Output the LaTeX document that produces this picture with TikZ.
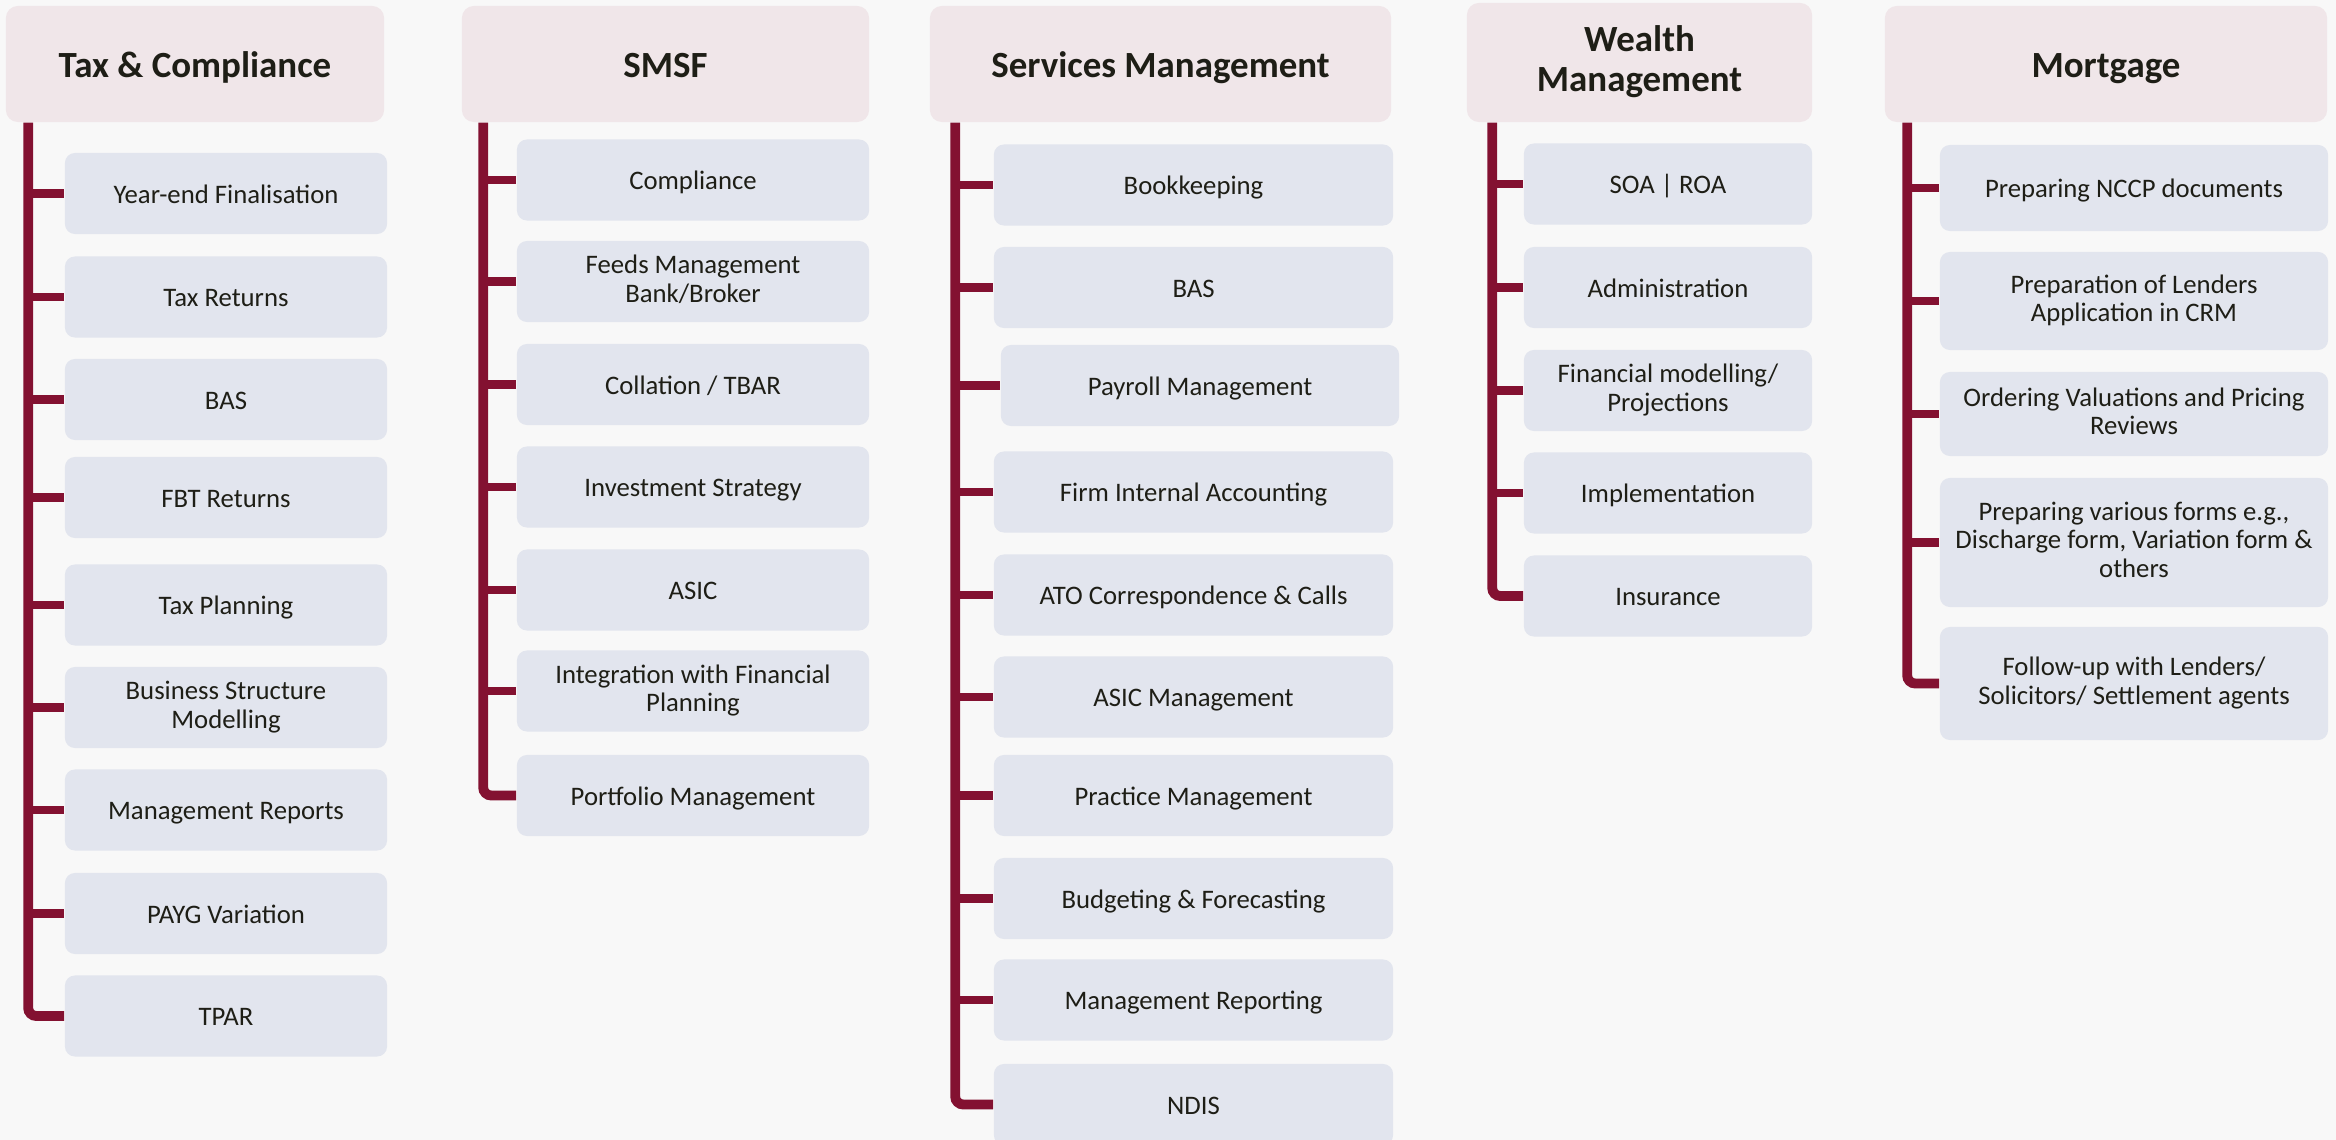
\documentclass[tikz,border=0pt]{standalone}
\usepackage{fontspec}
\setmainfont{Carlito}
\definecolor{bgcol}{HTML}{F8F8F8}
\definecolor{headfill}{HTML}{F0E6E9}
\definecolor{itemfill}{HTML}{E2E5EE}
\definecolor{linecol}{HTML}{831131}
\definecolor{txtcol}{HTML}{1E1E16}
\begin{document}
\begin{tikzpicture}[x=0.01cm,y=-0.01cm,
  head/.style={fill=headfill,rounded corners=0.12cm,minimum height=1.16cm,inner sep=0pt,
    align=center,text=txtcol,font=\fontsize{10.5}{11.5}\selectfont\bfseries,
    execute at begin node={\rule[-0.075cm]{0pt}{0.41cm}}},
  item/.style={fill=itemfill,rounded corners=0.1cm,minimum height=0.81cm,inner sep=0pt,
    align=center,text=txtcol,font=\fontsize{7.6}{8.1}\selectfont,
    execute at begin node={\rule[-0.055cm]{0pt}{0.30cm}}},
  trunk/.style={draw=linecol,line width=2.8pt,rounded corners=0.08cm},
  branch/.style={draw=linecol,line width=2.3pt}]
%fond
\fill[bgcol] (0,0) rectangle (2336,1140);
\useasboundingbox (0,0) rectangle (2336,1140);
%en-tetes
\node[head,minimum width=3.78cm] (h1) at (195,64) {Tax \& Compliance};
\node[head,minimum width=4.07cm] (h2) at (665.5,64) {SMSF};
\node[head,minimum width=4.61cm] (h3) at (1160.5,64) {Services Management};
\node[head,minimum width=3.45cm,minimum height=1.19cm] (h4) at (1639.5,62.5) {Wealth\\Management};
\node[head,minimum width=4.42cm] (h5) at (2106,64) {Mortgage};
%colonne 1
\node[item,minimum width=3.22cm] (c1-1) at (226,193.5) {Year-end Finalisation};
\node[item,minimum width=3.22cm] (c1-2) at (226,297) {Tax Returns};
\node[item,minimum width=3.22cm] (c1-3) at (226,399.5) {BAS};
\node[item,minimum width=3.22cm] (c1-4) at (226,497.5) {FBT Returns};
\node[item,minimum width=3.22cm] (c1-5) at (226,605) {Tax Planning};
\node[item,minimum width=3.22cm] (c1-6) at (226,707.5) {Business Structure\\Modelling};
\node[item,minimum width=3.22cm] (c1-7) at (226,810) {Management Reports};
\node[item,minimum width=3.22cm] (c1-8) at (226,913.5) {PAYG Variation};
\node[item,minimum width=3.22cm] (c1-9) at (226,1016) {TPAR};
\coordinate (t1) at ([xshift=0.23cm]h1.south west);
\draw[trunk] (t1) |- (c1-9.west);
\foreach \i in {1,...,8} \draw[branch] (t1 |- c1-\i.west) -- (c1-\i.west);
%colonne 2
\node[item,minimum width=3.52cm] (c2-1) at (693,180) {Compliance};
\node[item,minimum width=3.52cm] (c2-2) at (693,281.5) {Feeds Management\\Bank/Broker};
\node[item,minimum width=3.52cm] (c2-3) at (693,384.5) {Collation / TBAR};
\node[item,minimum width=3.52cm] (c2-4) at (693,487) {Investment Strategy};
\node[item,minimum width=3.52cm] (c2-5) at (693,590) {ASIC};
\node[item,minimum width=3.52cm] (c2-6) at (693,691) {Integration with Financial\\Planning};
\node[item,minimum width=3.52cm] (c2-7) at (693,795.5) {Portfolio Management};
\coordinate (t2) at ([xshift=0.22cm]h2.south west);
\draw[trunk] (t2) |- (c2-7.west);
\foreach \i in {1,...,6} \draw[branch] (t2 |- c2-\i.west) -- (c2-\i.west);
%colonne 3
\node[item,minimum width=3.99cm] (c3-1) at (1193.5,185) {Bookkeeping};
\node[item,minimum width=3.99cm] (c3-2) at (1193.5,287.5) {BAS};
\node[item,minimum width=3.98cm] (c3-3) at (1200,385.5) {Payroll Management};
\node[item,minimum width=3.99cm] (c3-4) at (1193.5,492) {Firm Internal Accounting};
\node[item,minimum width=3.99cm] (c3-5) at (1193.5,595) {ATO Correspondence \& Calls};
\node[item,minimum width=3.99cm] (c3-6) at (1193.5,697) {ASIC Management};
\node[item,minimum width=3.99cm] (c3-7) at (1193.5,795.5) {Practice Management};
\node[item,minimum width=3.99cm] (c3-8) at (1193.5,898.5) {Budgeting \& Forecasting};
\node[item,minimum width=3.99cm] (c3-9) at (1193.5,1000) {Management Reporting};
\node[item,minimum width=3.99cm] (c3-10) at (1193.5,1104.5) {NDIS};
\coordinate (t3) at ([xshift=0.26cm]h3.south west);
\draw[trunk] (t3) |- (c3-10.west);
\foreach \i in {1,...,9} \draw[branch] (t3 |- c3-\i.west) -- (c3-\i.west);
%colonne 4
\node[item,minimum width=2.88cm] (c4-1) at (1668,184) {SOA | ROA};
\node[item,minimum width=2.88cm] (c4-2) at (1668,287.5) {Administration};
\node[item,minimum width=2.88cm] (c4-3) at (1668,390.5) {Financial modelling/\\Projections};
\node[item,minimum width=2.88cm] (c4-4) at (1668,493) {Implementation};
\node[item,minimum width=2.88cm] (c4-5) at (1668,596) {Insurance};
\coordinate (t4) at ([xshift=0.26cm]h4.south west);
\draw[trunk] (t4) |- (c4-5.west);
\foreach \i in {1,...,4} \draw[branch] (t4 |- c4-\i.west) -- (c4-\i.west);
%colonne 5
\node[item,minimum width=3.88cm,minimum height=0.86cm] (c5-1) at (2134,188) {Preparing NCCP documents};
\node[item,minimum width=3.88cm,minimum height=0.98cm] (c5-2) at (2134,301) {Preparation of Lenders\\Application in CRM};
\node[item,minimum width=3.88cm,minimum height=0.84cm] (c5-3) at (2134,414) {Ordering Valuations and Pricing\\Reviews};
\node[item,minimum width=3.88cm,minimum height=1.29cm] (c5-4) at (2134,542.5) {Preparing various forms e.g.,\\Discharge form, Variation form \&\\others};
\node[item,minimum width=3.88cm,minimum height=1.13cm] (c5-5) at (2134,683.5) {Follow-up with Lenders/\\Solicitors/ Settlement agents};
\coordinate (t5) at ([xshift=0.23cm]h5.south west);
\draw[trunk] (t5) |- (c5-5.west);
\foreach \i in {1,...,4} \draw[branch] (t5 |- c5-\i.west) -- (c5-\i.west);
\end{tikzpicture}
\end{document}
